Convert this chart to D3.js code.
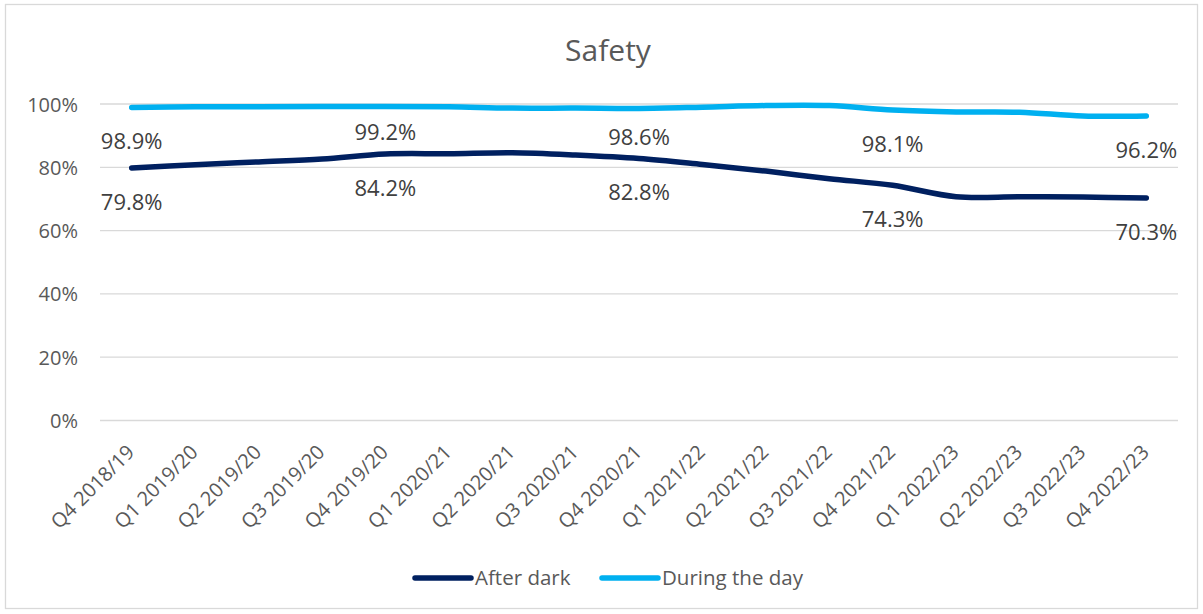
<!DOCTYPE html>
<html>
<head>
<meta charset="utf-8">
<script src="https://cdn.jsdelivr.net/npm/d3@7"></script>
<style>
  body { margin: 0; background: #fff; }
  svg text { font-family: "Open Sans", sans-serif; }
  .grid line { stroke: #d9d9d9; stroke-width: 1.3px; }
  .y-axis text { fill: #595959; font-size: 20px; }
  .x-axis text { fill: #595959; font-size: 20px; }
  .data-label { fill: #404040; font-size: 22px; }
  .legend text { fill: #595959; font-size: 20.5px; }
</style>
</head>
<body>
<div id="chart"></div>
<script>
const categories = [
  "Q4 2018/19", "Q1 2019/20", "Q2 2019/20", "Q3 2019/20", "Q4 2019/20",
  "Q1 2020/21", "Q2 2020/21", "Q3 2020/21", "Q4 2020/21",
  "Q1 2021/22", "Q2 2021/22", "Q3 2021/22", "Q4 2021/22",
  "Q1 2022/23", "Q2 2022/23", "Q3 2022/23", "Q4 2022/23"
];
const afterDark = [79.8, 80.8, 81.7, 82.6, 84.2, 84.3, 84.6, 83.9, 82.8, 80.9, 78.8, 76.4, 74.3, 70.7, 70.7, 70.6, 70.3];
const duringDay = [98.9, 99.1, 99.1, 99.2, 99.2, 99.1, 98.7, 98.7, 98.6, 99.0, 99.5, 99.5, 98.1, 97.5, 97.4, 96.2, 96.2];
const yTicks = [0, 20, 40, 60, 80, 100];
const labelledPoints = [0, 4, 8, 12, 16];

const series = [
  {name: "After dark", values: afterDark, color: "#002060"},
  {name: "During the day", values: duringDay, color: "#00b0f0"}
];

const width = 1203, height = 614;
const plot = {left: 100, right: 1178, top: 104, bottom: 420.5};

const svg = d3.select("#chart").append("svg")
  .attr("width", width)
  .attr("height", height);

// chart frame
svg.append("rect")
  .attr("x", 5.5).attr("y", 4.5)
  .attr("width", 1192).attr("height", 604)
  .attr("fill", "none")
  .attr("stroke", "#d9d9d9")
  .attr("stroke-width", 1.3);

svg.append("text")
  .attr("x", 608).attr("y", 61)
  .attr("text-anchor", "middle")
  .attr("fill", "#595959")
  .style("font-size", "30px")
  .text("Safety");

const x = d3.scaleBand()
  .domain(categories)
  .range([plot.left, plot.right]);

const y = d3.scaleLinear()
  .domain([0, 100])
  .range([plot.bottom, plot.top]);

const cx = d => x(d) + x.bandwidth() / 2;

// gridlines
svg.append("g")
  .attr("class", "grid")
  .selectAll("line")
  .data(yTicks)
  .join("line")
    .attr("x1", plot.left)
    .attr("x2", plot.right)
    .attr("y1", d => y(d))
    .attr("y2", d => y(d));

// y axis, labels only
const yAxis = svg.append("g")
  .attr("class", "y-axis")
  .attr("transform", "translate(" + (plot.left - 22) + ",0)")
  .call(d3.axisLeft(y).tickValues(yTicks).tickFormat(d => d + "%").tickSize(0));
yAxis.select(".domain").remove();
yAxis.selectAll("text").attr("x", 0).attr("dy", "0.35em");

// x axis, rotated labels
const xAxis = svg.append("g")
  .attr("class", "x-axis")
  .attr("transform", "translate(0," + plot.bottom + ")")
  .call(d3.axisBottom(x).tickSize(0));
xAxis.select(".domain").remove();
xAxis.selectAll("text")
  .attr("text-anchor", "end")
  .attr("y", 0)
  .attr("dy", 0)
  .attr("transform", "translate(4,33) rotate(-45)");

const line = d3.line()
  .x((d, i) => cx(categories[i]))
  .y(d => y(d))
  .curve(d3.curveCatmullRom.alpha(0.5));

svg.append("g")
  .selectAll("path")
  .data(series)
  .join("path")
    .attr("d", d => line(d.values))
    .attr("fill", "none")
    .attr("stroke", d => d.color)
    .attr("stroke-width", 5.5)
    .attr("stroke-linecap", "round")
    .attr("stroke-linejoin", "round");

// data labels sit under each line; two day labels were pulled up to clear the dark line
const dayNudge = {4: -9, 8: -5};
series.forEach((s, si) => {
  svg.append("g")
    .selectAll("text")
    .data(labelledPoints)
    .join("text")
      .attr("class", "data-label")
      .attr("text-anchor", "middle")
      .attr("x", i => cx(categories[i]))
      .attr("y", i => y(s.values[i]) + 42 + (si === 1 ? (dayNudge[i] || 0) : 0))
      .text(i => s.values[i].toFixed(1) + "%");
});

// legend
const legendX = [415, 602];
const legend = svg.append("g")
  .attr("class", "legend")
  .selectAll("g")
  .data(series)
  .join("g")
    .attr("transform", (d, i) => "translate(" + legendX[i] + ",578)");

legend.append("line")
  .attr("x1", 0).attr("x2", 56)
  .attr("stroke", d => d.color)
  .attr("stroke-width", 5.5)
  .attr("stroke-linecap", "round");

legend.append("text")
  .attr("x", 60)
  .attr("dy", "0.36em")
  .text(d => d.name);
</script>
</body>
</html>
